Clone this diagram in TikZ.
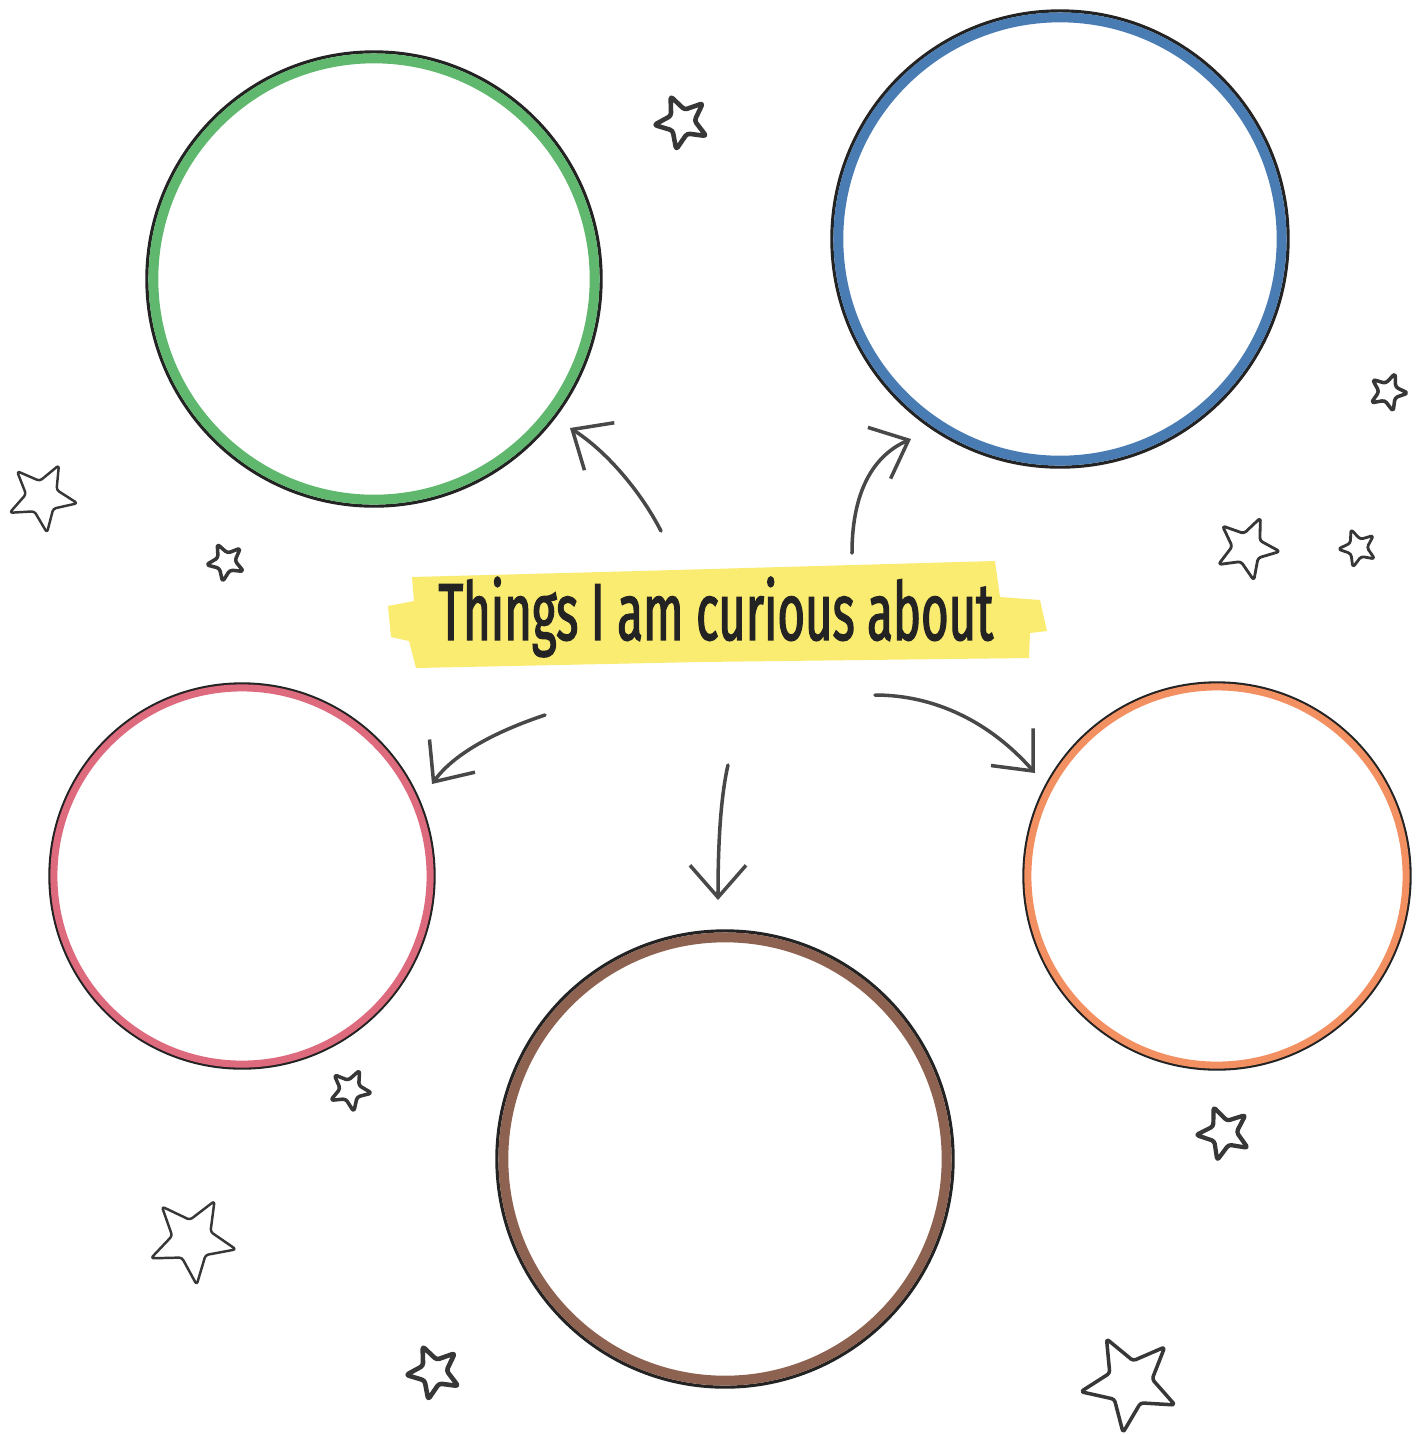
\documentclass[tikz,border=0pt]{standalone}
\usepackage{fontspec}
\usepackage{xcolor}
\usepackage{tikz}
\usetikzlibrary{arrows.meta, positioning}
\newfontfamily\scribble[FakeStretch=0.585, FakeBold=1.6]{Fira Sans}
\definecolor{pencil}{RGB}{35, 35, 35}
\definecolor{arrowgrey}{RGB}{72, 72, 72}
\definecolor{starline}{RGB}{55, 55, 55}
\definecolor{tapeyellow}{RGB}{250, 236, 112}
\definecolor{leafgreen}{RGB}{96, 184, 110}
\definecolor{skyblue}{RGB}{74, 124, 180}
\definecolor{rosepink}{RGB}{222, 106, 126}
\definecolor{clayorange}{RGB}{242, 144, 98}
\definecolor{cocoabrown}{RGB}{142, 98, 80}

\begin{document}
\begin{tikzpicture}[x=0.01cm, y=-0.01cm,
    bubble/.style={circle, draw=pencil, line width=0.9pt, inner sep=0pt,
                   minimum size=#1},
    ring/.style={draw=#1, line width=2.8pt},
    thinring/.style={draw=#1, line width=2pt},
    wonder/.style={draw=arrowgrey, line width=1pt, line cap=round,
                   -{Straight Barb[length=3.2mm, width=5.6mm, line width=1pt]}},
    doodle/.pic={
        \draw[starline, rounded corners=0.8pt, line join=round]
            (90:1) -- (126:0.45) -- (162:1) -- (198:0.45) -- (234:1)
            -- (270:0.45) -- (306:1) -- (342:0.45) -- (18:1) -- (54:0.45) -- cycle;
    },
]
    \fill[white] (0,0) rectangle (1424,1435);
    \useasboundingbox (0,0) rectangle (1424,1435);

    % the five bubbles
    \node[bubble=4.54cm] (green) at (374,279) {};
    \draw[ring=leafgreen] (green.center) circle (2.205cm);
    \node[bubble=4.56cm] (blue) at (1060,239) {};
    \draw[ring=skyblue] (blue.center) circle (2.215cm);
    \node[bubble=3.84cm] (pink) at (242,876) {};
    \draw[thinring=rosepink] (pink.center) circle (1.88cm);
    \node[bubble=4.56cm] (brown) at (725,1159) {};
    \draw[ring=cocoabrown] (brown.center) circle (2.215cm);
    \node[bubble=3.86cm] (orange) at (1217,876) {};
    \draw[thinring=clayorange] (orange.center) circle (1.89cm);

    % torn tape behind the title
    \fill[tapeyellow] (388,606) -- (414,601) -- (412,577) -- (640,571)
        -- (995,561) -- (1000,597) -- (1040,600) -- (1047,631) -- (1030,633)
        -- (1029,658) -- (700,662) -- (416,668) -- (409,641) -- (391,637) -- cycle;
    \node[font=\scribble\fontsize{23}{23}\selectfont, text=pencil]
        (title) at (716,617) {Things I am curious about};

    % arrows
    \coordinate (fromgreen) at (661,531);
    \coordinate (togreen) at (570,428);
    \coordinate (fromblue) at (852,553);
    \coordinate (toblue) at (911,439);
    \coordinate (frompink) at (545,715);
    \coordinate (topink) at (432,784);
    \coordinate (frombrown) at (728,765);
    \coordinate (tobrown) at (718,900);
    \coordinate (fromorange) at (875,695);
    \coordinate (toorange) at (1035,773);
    \draw[wonder] (fromgreen) .. controls (640,490) and (605,450) .. (togreen);
    \draw[wonder] (fromblue) .. controls (852,500) and (868,458) .. (toblue);
    \draw[wonder] (frompink) .. controls (500,730) and (455,752) .. (topink);
    \draw[wonder] (frombrown) .. controls (720,800) and (718,850) .. (tobrown);
    \draw[wonder] (fromorange) .. controls (935,695) and (990,722) .. (toorange);

    % stars
    \pic[scale=28, rotate=-12, line width=1.3pt] at (682,122) {doodle};
    \pic[scale=20, rotate=15, line width=1pt] at (1388,392) {doodle};
    \pic[scale=36, rotate=8, line width=0.7pt] at (42,497) {doodle};
    \pic[scale=20, rotate=-10, line width=1pt] at (226,562) {doodle};
    \pic[scale=33, rotate=12, line width=0.8pt] at (1247,548) {doodle};
    \pic[scale=20, rotate=-15, line width=0.8pt] at (1358,548) {doodle};
    \pic[scale=22, rotate=10, line width=1pt] at (350,1090) {doodle};
    \pic[scale=28, rotate=-14, line width=1.2pt] at (1224,1133) {doodle};
    \pic[scale=45, rotate=6, line width=0.7pt] at (192,1240) {doodle};
    \pic[scale=28, rotate=-12, line width=1.3pt] at (434,1372) {doodle};
    \pic[scale=50, rotate=-8, line width=1pt] at (1130,1383) {doodle};
\end{tikzpicture}
\end{document}
